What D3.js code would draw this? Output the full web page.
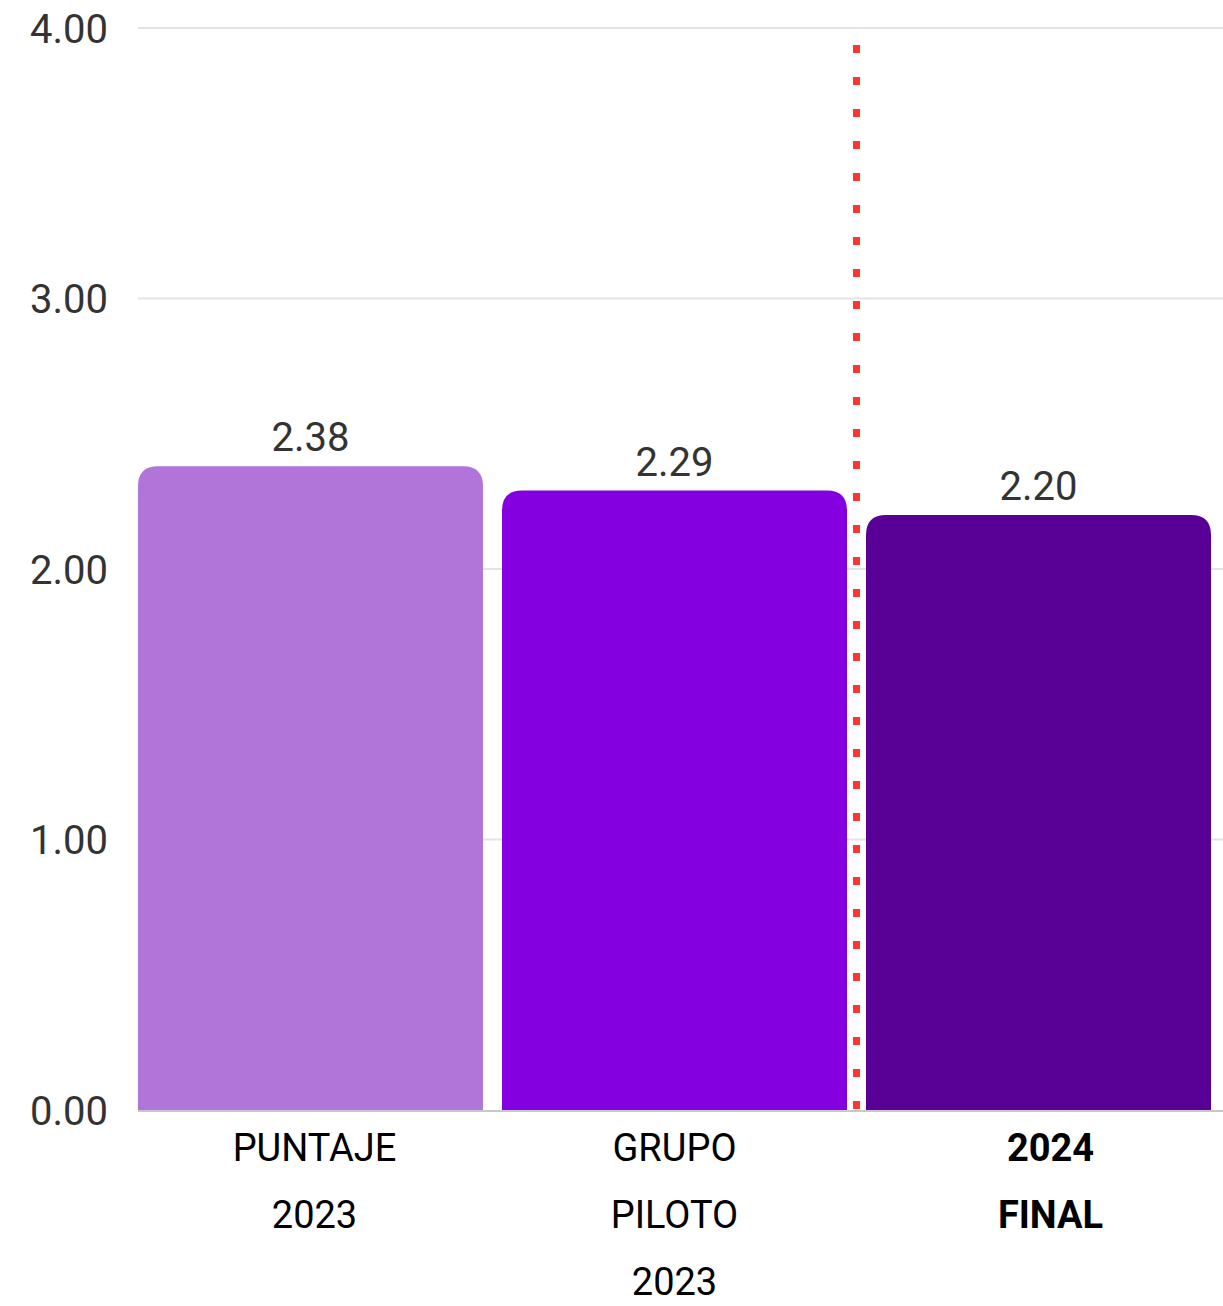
<!DOCTYPE html>
<html>
<head>
<meta charset="utf-8">
<script src="https://cdn.jsdelivr.net/npm/d3@7"></script>
<style>
  html, body { margin: 0; padding: 0; background: #fff; }
  svg { display: block; }
  text { font-family: Roboto, "Noto Sans", sans-serif; }
</style>
</head>
<body>
<svg id="chart" width="1223" height="1306"></svg>
<script>
const categories = ["PUNTAJE 2023", "GRUPO PILOTO 2023", "2024 FINAL"];
const categoryLines = [["PUNTAJE", "2023"], ["GRUPO", "PILOTO", "2023"], ["2024", "FINAL"]];
const boldCategory = [false, false, true];
const values = [2.38, 2.29, 2.20];
const barColors = ["#B175DA", "#8400E1", "#590096"];
const yTicks = [0, 1, 2, 3, 4];
const yDomain = [0, 4];

const svg = d3.select("#chart");
const plotLeft = 138, plotRight = 1223, plotTop = 28, plotBottom = 1110;

const x = d3.scaleBand().domain(categories).range([138, 1211]).paddingInner(19 / 364).paddingOuter(0);
const y = d3.scaleLinear().domain(yDomain).range([plotBottom, plotTop]);

// gridlines
svg.append("g").selectAll("line").data(yTicks.filter(d => d !== 0)).join("line")
  .attr("x1", plotLeft).attr("x2", plotRight)
  .attr("y1", d => y(d)).attr("y2", d => y(d))
  .attr("stroke", "#e3e3e3").attr("stroke-width", 2);

// y tick labels
const yAxis = d3.axisLeft(y).tickValues(yTicks).tickFormat(d3.format(".2f")).tickSize(0).tickPadding(0);
const ya = svg.append("g").attr("transform", "translate(108,0)").call(yAxis);
ya.select(".domain").remove();
ya.selectAll("text").attr("font-size", 40).attr("fill", "#333").attr("font-family", "Roboto, sans-serif")
  .attr("dy", "0.36em");

// bars with rounded top corners
const r = 20;
function barPath(x0, w, yTop, yBot) {
  const rr = Math.min(r, w / 2, yBot - yTop);
  return `M${x0},${yBot}V${yTop + rr}Q${x0},${yTop} ${x0 + rr},${yTop}H${x0 + w - rr}Q${x0 + w},${yTop} ${x0 + w},${yTop + rr}V${yBot}Z`;
}
svg.append("g").selectAll("path").data(categories).join("path")
  .attr("d", (d, i) => barPath(x(d), x.bandwidth(), y(values[i]), y(0)))
  .attr("fill", (d, i) => barColors[i]);

// baseline
svg.append("line").attr("x1", plotLeft).attr("x2", plotRight)
  .attr("y1", y(0) + 1).attr("y2", y(0) + 1)
  .attr("stroke", "#c8c8c8").attr("stroke-width", 2);

// value labels
svg.append("g").selectAll("text").data(categories).join("text")
  .attr("x", d => x(d) + x.bandwidth() / 2)
  .attr("y", (d, i) => y(values[i]) - 15)
  .attr("text-anchor", "middle")
  .attr("font-size", 40).attr("fill", "#333")
  .text((d, i) => d3.format(".2f")(values[i]));

// red dotted separator
const sepX = (x(categories[1]) + x.bandwidth() + x(categories[2])) / 2;
svg.append("line")
  .attr("x1", sepX).attr("x2", sepX)
  .attr("y1", 45).attr("y2", y(0))
  .attr("stroke", "#FF3333").attr("stroke-width", 7)
  .attr("stroke-dasharray", "8,24");

// x labels
const xl = svg.append("g");
const xOffsets = [4, 0, 12];
categories.forEach((c, i) => {
  const cx = x(c) + x.bandwidth() / 2 + xOffsets[i];
  const t = xl.append("text")
    .attr("text-anchor", "middle")
    .attr("font-size", 38)
    .attr("font-weight", boldCategory[i] ? "bold" : "normal")
    .attr("fill", "#000");
  categoryLines[i].forEach((ln, j) => {
    t.append("tspan").attr("x", cx).attr("y", 1161 + j * 67).text(ln);
  });
});
</script>
</body>
</html>
